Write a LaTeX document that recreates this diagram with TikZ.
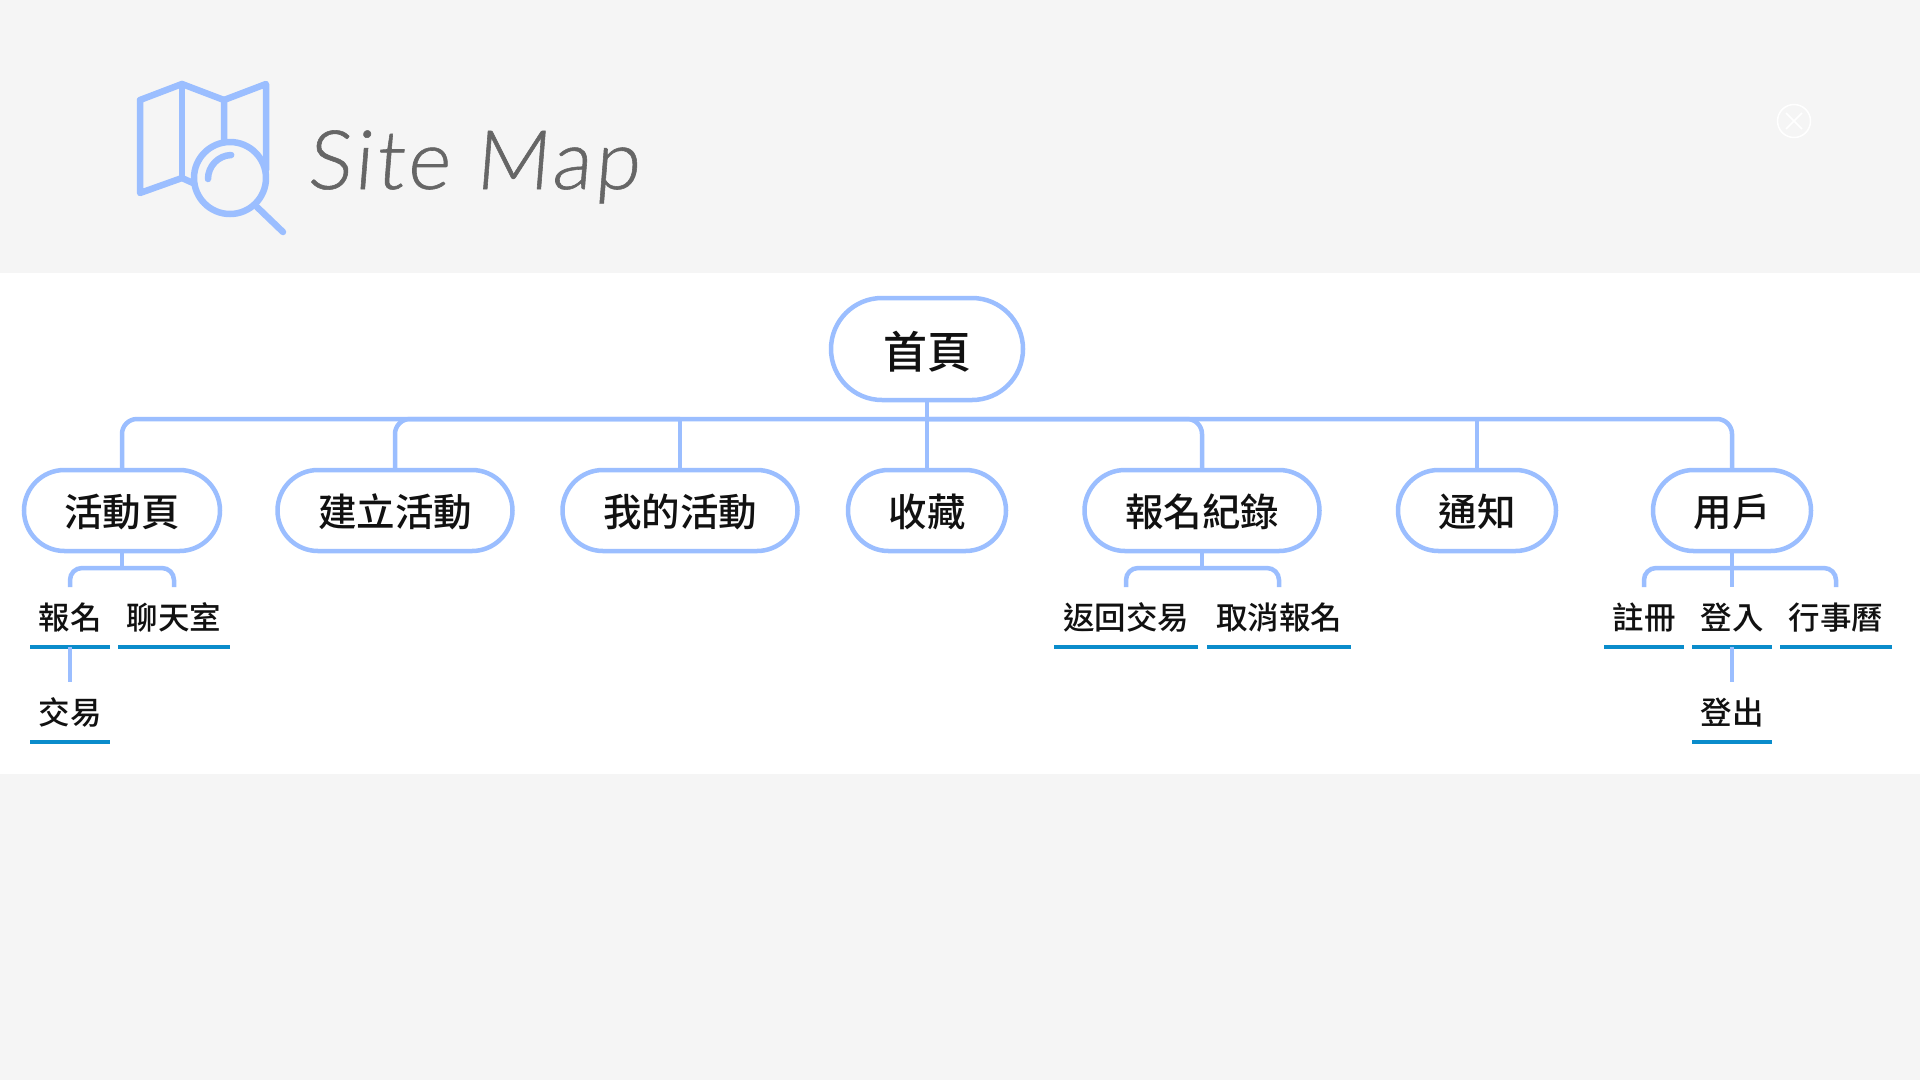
\documentclass[tikz,border=0pt]{standalone}
\usepackage{fontspec}
\usetikzlibrary{shapes.misc}
\newfontfamily\cjk{Noto Sans CJK TC Medium}
\newfontfamily\titlefont{Lato Light}
\definecolor{bgc}{HTML}{F5F5F5}
\definecolor{mapc}{HTML}{9BBEFF}
\definecolor{ulc}{HTML}{0A8CCB}
\definecolor{txtc}{HTML}{111111}
\definecolor{titlec}{HTML}{666666}
\tikzset{
  pill/.style={rounded rectangle,draw=mapc,line width=4.5pt,fill=white,inner sep=0pt,outer sep=0pt,
    minimum height=81pt,text=txtc,text height=31.7pt,text depth=0pt,font=\cjk\fontsize{38.5}{46}\selectfont},
  rootpill/.style={pill,minimum height=102pt,minimum width=192pt,text height=38.4pt,font=\cjk\fontsize{44}{52}\selectfont},
  sub/.style={inner sep=0pt,outer sep=0pt,minimum height=60pt,text=txtc,text height=25pt,text depth=0pt,font=\cjk\fontsize{31.5}{38}\selectfont},
  link/.style={draw=mapc,line width=4.5pt},
  corner/.style={link,rounded corners=15pt},
  smallcorner/.style={link,rounded corners=12pt},
  under/.style={draw=ulc,line width=3.5pt},
  icon/.style={draw=mapc,line width=6.5pt,line cap=round,line join=round}
}
\begin{document}
\begin{tikzpicture}[x=1pt,y=-1pt]
\useasboundingbox (0,0) rectangle (1920,1080);
\fill[bgc] (0,0) rectangle (1920,1080);
\fill[white] (0,273) rectangle (1920,774);

% map icon
\draw[icon] (224,140) -- (224,100) -- (182,84) -- (140,100) -- (140,193) -- (182,178) -- (193,183);
\draw[icon] (182,84) -- (182,178);
\draw[icon] (224,100) -- (266,84) -- (266,170);
\draw[icon] (230,178) circle[radius=36];
\draw[icon] (208,179) arc[start angle=180,end angle=268,radius=24];
\draw[icon] (257,207) -- (283,232);
\node[text=titlec,font=\titlefont\fontsize{82}{98}\selectfont\addfontfeature{FakeSlant=0.08,LetterSpace=4,FakeBold=0.7},anchor=base west,inner sep=0pt] (title) at (307,189) {Site Map};

% close button
\coordinate (closec) at (1794,121);
\draw[white,line width=1.5pt] (closec) circle[radius=16.5];
\draw[white,line width=1.5pt] (1786,113) -- (1802,129) (1786,129) -- (1802,113);

% nodes
\node[rootpill] (root) at (927,349) {首頁};
\node[pill,minimum width=196pt] (n1) at (122,510.5) {活動頁};
\node[pill,minimum width=235pt] (n2) at (395,510.5) {建立活動};
\node[pill,minimum width=235pt] (n3) at (680,510.5) {我的活動};
\node[pill,minimum width=158pt] (n4) at (927,510.5) {收藏};
\node[pill,minimum width=235pt] (n5) at (1202,510.5) {報名紀錄};
\node[pill,minimum width=158pt] (n6) at (1477,510.5) {通知};
\node[pill,minimum width=158pt] (n7) at (1732,510.5) {用戶};

\node[sub,minimum width=80pt] (c1) at (70,617) {報名};
\node[sub,minimum width=112pt] (c2) at (174,617) {聊天室};
\node[sub,minimum width=80pt] (c1b) at (70,712) {交易};
\node[sub,minimum width=144pt] (c3) at (1126,617) {返回交易};
\node[sub,minimum width=144pt] (c4) at (1279,617) {取消報名};
\node[sub,minimum width=80pt] (c5) at (1644,617) {註冊};
\node[sub,minimum width=80pt] (c6) at (1732,617) {登入};
\node[sub,minimum width=112pt] (c7) at (1836,617) {行事曆};
\node[sub,minimum width=80pt] (c6b) at (1732,712) {登出};

\foreach \u in {c1,c2,c1b,c3,c4,c5,c6,c7,c6b}
  \draw[under] (\u.south west) -- (\u.south east);

% trunk
\coordinate (trunk) at (927,419);
\draw[corner] (n1.north) -- (n1.north |- trunk) -- (n7.north |- trunk) -- (n7.north);
\draw[link] (root.south) -- (n4.north);
\draw[corner] (n2.north) -- (n2.north |- trunk) -- (n3.north |- trunk);
\draw[link] (n3.north) -- (n3.north |- trunk);
\draw[corner] (n5.north) -- (n5.north |- trunk) -- (n4.north |- trunk);
\draw[link] (n6.north) -- (n6.north |- trunk);

% branches
\coordinate (b1) at (122,568);
\coordinate (b5) at (1202,568);
\coordinate (b7) at (1732,568);
\draw[link] (n1.south) -- (b1);
\draw[smallcorner] (c1.north) -- (c1.north |- b1) -- (c2.north |- b1) -- (c2.north);
\draw[link] (n5.south) -- (b5);
\draw[smallcorner] (c3.north) -- (c3.north |- b5) -- (c4.north |- b5) -- (c4.north);
\draw[link] (n7.south) -- (c6.north);
\draw[smallcorner] (c5.north) -- (c5.north |- b7) -- (c7.north |- b7) -- (c7.north);
\draw[link] (c1.south) -- (c1b.north);
\draw[link] (c6.south) -- (c6b.north);
\end{tikzpicture}
\end{document}
